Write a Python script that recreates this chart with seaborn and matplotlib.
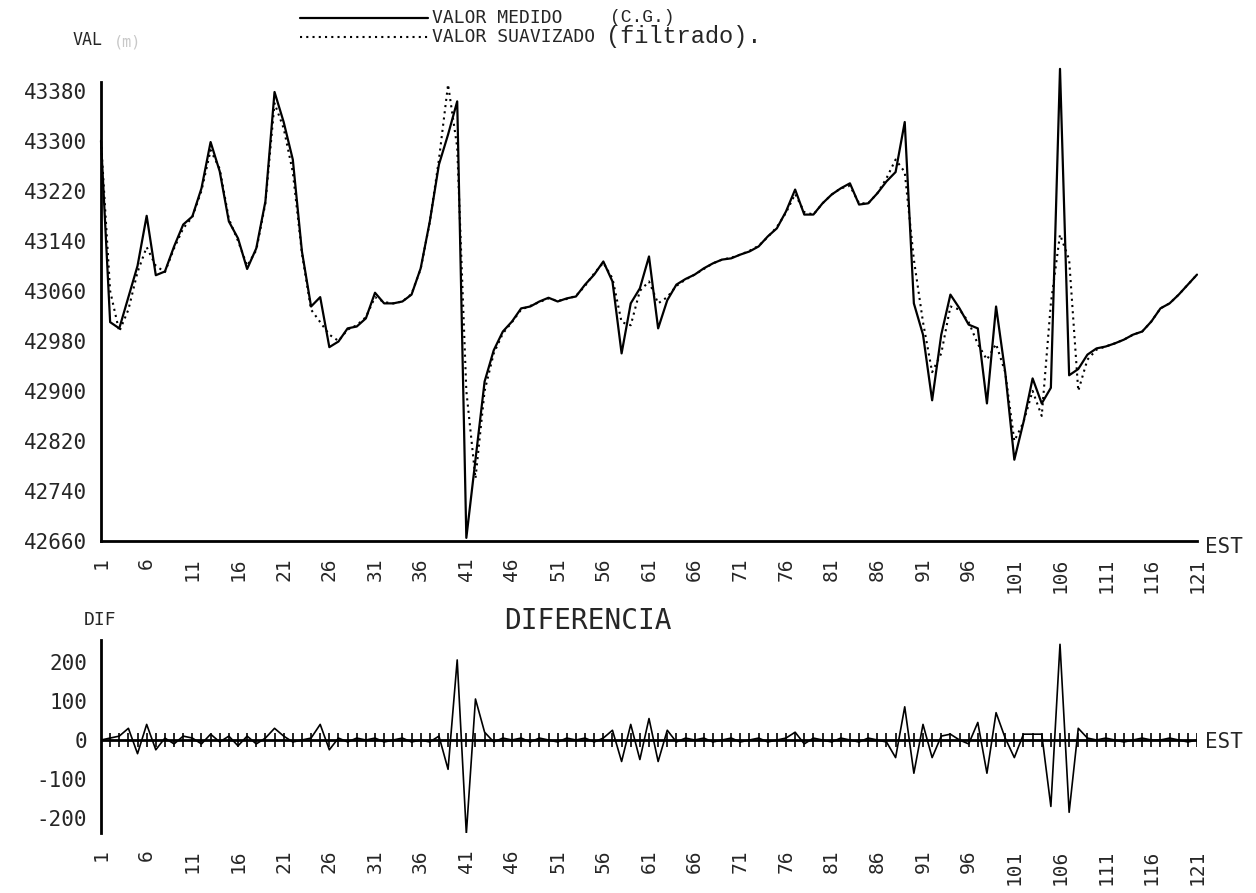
import numpy as np
import pandas as pd
import matplotlib
matplotlib.use("Agg")
import matplotlib.pyplot as plt
import seaborn as sns
from matplotlib.lines import Line2D

# estaciones 1..121
est = list(range(1, 122))

# valor medido (C.G.)
medido = [
    43300, 43010, 43000, 43050, 43100, 43180, 43085, 43091, 43131, 43166,
    43179, 43224, 43298, 43251, 43171, 43144, 43095, 43128, 43203, 43378,
    43330, 43270, 43123, 43035, 43050, 42970, 42979, 43000, 43003, 43016,
    43057, 43040, 43040, 43043, 43054, 43096, 43171, 43262, 43310, 43363,
    42665, 42790, 42915, 42965, 42995, 43011, 43032, 43035, 43043, 43049,
    43043, 43048, 43051, 43070, 43086, 43107, 43075, 42960, 43040, 43064,
    43115, 43000, 43045, 43070, 43079, 43086, 43096, 43104, 43110, 43112,
    43118, 43123, 43131, 43147, 43160, 43187, 43222, 43182, 43182, 43200,
    43214, 43224, 43232, 43198, 43200, 43216, 43235, 43250, 43330, 43040,
    42990, 42885, 42990, 43054, 43032, 43006, 43000, 42880, 43035, 42930,
    42790, 42850, 42920, 42880, 42905, 43415, 42925, 42935, 42958, 42968,
    42971, 42976, 42982, 42990, 42995, 43011, 43032, 43040, 43054, 43070,
    43086]

# valor suavizado (filtrado)
suavizado = [
    43300, 43060, 42995, 43030, 43090, 43130, 43100, 43090, 43128, 43160,
    43178, 43220, 43285, 43255, 43175, 43140, 43100, 43125, 43200, 43360,
    43320, 43250, 43120, 43030, 43010, 42990, 42980, 42998, 43005, 43018,
    43050, 43042, 43040, 43043, 43055, 43095, 43170, 43270, 43390, 43290,
    42900, 42760, 42900, 42960, 42992, 43010, 43030, 43036, 43042, 43048,
    43044, 43047, 43052, 43068, 43088, 43105, 43080, 43010, 43005, 43060,
    43075, 43040, 43050, 43068, 43078, 43086, 43095, 43104, 43110, 43113,
    43118, 43124, 43132, 43146, 43162, 43185, 43215, 43186, 43182, 43200,
    43214, 43224, 43228, 43200, 43200, 43216, 43240, 43270, 43250, 43110,
    43010, 42930, 42960, 43035, 43030, 43010, 42975, 42950, 42975, 42930,
    42820, 42850, 42900, 42860, 43040, 43150, 43110, 42900, 42950, 42966,
    42971, 42976, 42982, 42990, 42995, 43011, 43032, 43040, 43054, 43070,
    43086]

# diferencia
diferencia = [
    0, 5, 10, 30, -35, 40, -25, 5, -10, 10,
    5, -10, 15, -5, 10, -15, 10, -10, 5, 30,
    10, -5, 0, 5, 40, -25, 5, -5, 5, 0,
    5, -5, 0, 5, -5, 0, -5, 10, -75, 205,
    -240, 105, 20, -5, 5, 0, 5, -5, 5, 0,
    -5, 5, 0, 5, -5, 5, 25, -55, 40, -50,
    55, -55, 25, -5, 5, 0, 5, -5, 0, 5,
    -5, 0, 5, -5, 0, 5, 20, -10, 5, 0,
    -5, 5, 0, -5, 5, 0, -5, -45, 85, -85,
    40, -45, 10, 15, 0, -10, 45, -85, 70, 5,
    -45, 15, 15, 15, -170, 245, -185, 30, 5, 0,
    5, 0, -5, 0, 5, 0, 0, 5, 0, -5,
    0]

yticks_top = list(range(42660, 43381, 80))
yticks_dif = [-200, -100, 0, 100, 200]
yticks_dif_minor = [-150, -50, 50, 150, 250]
xticks = list(range(1, 122, 5))

df = pd.DataFrame({"EST": est, "medido": medido, "suavizado": suavizado, "dif": diferencia})

sns.set_style("white")
plt.rcParams["font.family"] = ["DejaVu Sans Mono", "DejaVu Sans"]
plt.rcParams["axes.unicode_minus"] = False

W, H = 1256, 893
fig = plt.figure(figsize=(W / 100, H / 100), dpi=100)


def fx(x):
    return x / W


def fy(y):
    return 1 - y / H


# grafico superior
ax1 = fig.add_axes([fx(101), fy(541), fx(1197) - fx(101), fy(82) - fy(541)])
sns.lineplot(data=df, x="EST", y="medido", ax=ax1, color="black", linewidth=1.6)
sns.lineplot(data=df, x="EST", y="suavizado", ax=ax1, color="black", linewidth=1.5,
             linestyle=(0, (1, 2)))
for ln in ax1.lines:
    ln.set_clip_on(False)
ax1.set_xlim(1, 121)
ax1.set_ylim(42660, 43394)
ax1.set_xlabel("")
ax1.set_ylabel("")
for s in ["top", "right"]:
    ax1.spines[s].set_visible(False)
for s in ["left", "bottom"]:
    ax1.spines[s].set_linewidth(2)
    ax1.spines[s].set_color("black")
ax1.set_yticks(yticks_top)
ax1.set_xticks(xticks)
ax1.set_xticks(est, minor=True)
ax1.tick_params(axis="y", direction="in", length=10, width=1.6, pad=10, labelsize=15)
ax1.tick_params(axis="x", which="major", direction="in", length=9, width=1.5, pad=12,
                labelsize=14, labelrotation=90)
ax1.tick_params(axis="x", which="minor", direction="in", length=4, width=1.2)

# grafico inferior
ax2 = fig.add_axes([fx(101), fy(833), fx(1197) - fx(101), fy(640) - fy(833)])
sns.lineplot(data=df, x="EST", y="dif", ax=ax2, color="black", linewidth=1.2)
ax2.axhline(0, color="black", linewidth=2)
ax2.vlines(df["EST"], -18, 18, color="black", linewidth=1.2)
ax2.set_xlim(1, 121)
ax2.set_ylim(-238, 256)
ax2.set_xlabel("")
ax2.set_ylabel("")
for s in ["top", "right", "bottom"]:
    ax2.spines[s].set_visible(False)
ax2.spines["left"].set_linewidth(2)
ax2.spines["left"].set_color("black")
ax2.set_yticks(yticks_dif)
ax2.set_yticks(yticks_dif_minor, minor=True)
ax2.set_xticks(xticks)
ax2.tick_params(axis="y", which="major", direction="in", length=10, width=1.6, pad=10,
                labelsize=15)
ax2.tick_params(axis="y", which="minor", direction="in", length=6, width=1.4)
ax2.tick_params(axis="x", which="major", length=0, pad=12, labelsize=14, labelrotation=90)

# textos
fig.text(fx(88), fy(40), "VAL", fontsize=12, ha="center", va="center")
fig.text(fx(128), fy(42), "(m)", fontsize=11, ha="center", va="center", color="#c8c8c8")

fig.add_artist(Line2D([fx(300), fx(428)], [fy(18), fy(18)], color="black", linewidth=1.6))
fig.add_artist(Line2D([fx(300), fx(428)], [fy(37), fy(37)], color="black", linewidth=1.5,
                      linestyle=(0, (1, 2))))
fig.text(fx(432), fy(18), "VALOR MEDIDO", fontsize=13, ha="left", va="center")
fig.text(fx(432), fy(37), "VALOR SUAVIZADO", fontsize=13, ha="left", va="center")
fig.text(fx(610), fy(18), "(C.G.)", fontsize=13, ha="left", va="center",
         family=["Liberation Mono", "DejaVu Sans Mono"])
fig.text(fx(606), fy(37), "(filtrado).", fontsize=17, ha="left", va="center",
         family=["Liberation Mono", "DejaVu Sans Mono"])

fig.text(fx(1205), fy(547), "EST", fontsize=15, ha="left", va="center")
fig.text(fx(1205), fy(742), "EST", fontsize=15, ha="left", va="center")
fig.text(fx(100), fy(620), "DIF", fontsize=13, ha="center", va="center")
fig.text(fx(588), fy(621), "DIFERENCIA", fontsize=20, ha="center", va="center")

fig.savefig("out.png", dpi=100)
